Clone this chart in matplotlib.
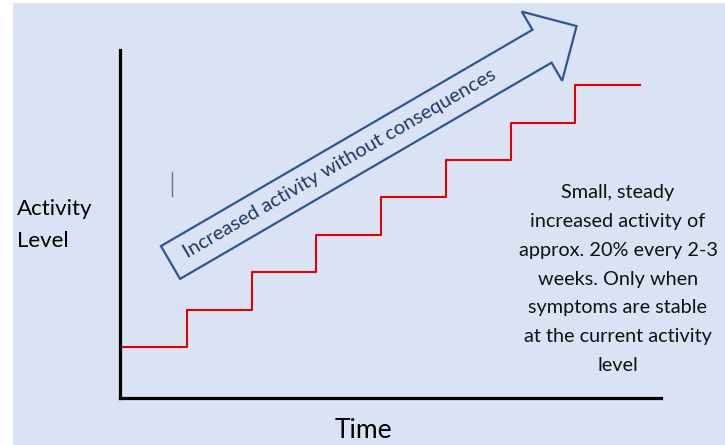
import matplotlib
matplotlib.use("Agg")
import matplotlib.pyplot as plt
import matplotlib.patches as mpatches

plt.rcParams['font.family'] = ['Lato', 'DejaVu Sans']

# step index (each step ~2-3 weeks) and activity level (% of baseline)
steps = [0, 1, 2, 3, 4, 5, 6, 7, 8]
activity = [100, 120, 140, 160, 180, 200, 220, 240, 240]

arrow_label = "Increased activity without consequences"
note = ("Small, steady\nincreased activity of\napprox. 20% every 2-3\n"
        "weeks. Only when\nsymptoms are stable\nat the current activity\nlevel")
bg = '#dae3f3'
blue = '#2f5597'

W, H = 725, 445
fig = plt.figure(figsize=(W / 100, H / 100), dpi=100, facecolor='white')

# full-figure canvas in pixel units for background, arrow and notes
canvas = fig.add_axes([0, 0, 1, 1], zorder=0)
canvas.set_xlim(0, W)
canvas.set_ylim(H, 0)
canvas.axis('off')
canvas.add_patch(mpatches.Rectangle((13, 3), W - 13, H - 3, fc=bg, ec='none'))

# the block arrow
ux, uy = 0.864, -0.503
L = 470
canvas.add_patch(mpatches.FancyArrow(170.5, 262.5, L * ux, L * uy, width=38,
                                     head_width=80, head_length=40,
                                     length_includes_head=True, fc='none',
                                     ec=blue, lw=1.6, zorder=3))
canvas.text(170.5 + 196 * ux, 262.5 + 196 * uy, arrow_label, rotation=30.2,
            rotation_mode='anchor', ha='center', va='center',
            fontsize=14.5, color='#1f3864', zorder=4)

# stray cursor mark
canvas.plot([172, 172], [172, 196], color='#707070', lw=1)

canvas.text(17, 247, "Activity\nLevel", ha='left', va='baseline',
            fontsize=16, linespacing=1.72, color='black')
canvas.text(618, 371, note, ha='center', va='baseline', fontsize=14.3,
            linespacing=1.84, color='#111111')
canvas.text(363, 438, "Time", ha='center', va='baseline', fontsize=19,
            color='black')

# the chart itself
ax = fig.add_axes([120 / W, (H - 398) / H, (661 - 120) / W, (398 - 50) / H],
                  zorder=1)
ax.patch.set_alpha(0)
ax.step(steps, activity, where='post', color='#e00000', lw=1.5)
ax.set_xlim(-0.03, 8.32)
ax.set_ylim(72.7, 258.8)
for s in ['top', 'right']:
    ax.spines[s].set_visible(False)
for s in ['left', 'bottom']:
    ax.spines[s].set_linewidth(2.3)
    ax.spines[s].set_color('black')
ax.set_xticks([])
ax.set_yticks([])

fig.savefig('out.png', dpi=100, facecolor='white')
